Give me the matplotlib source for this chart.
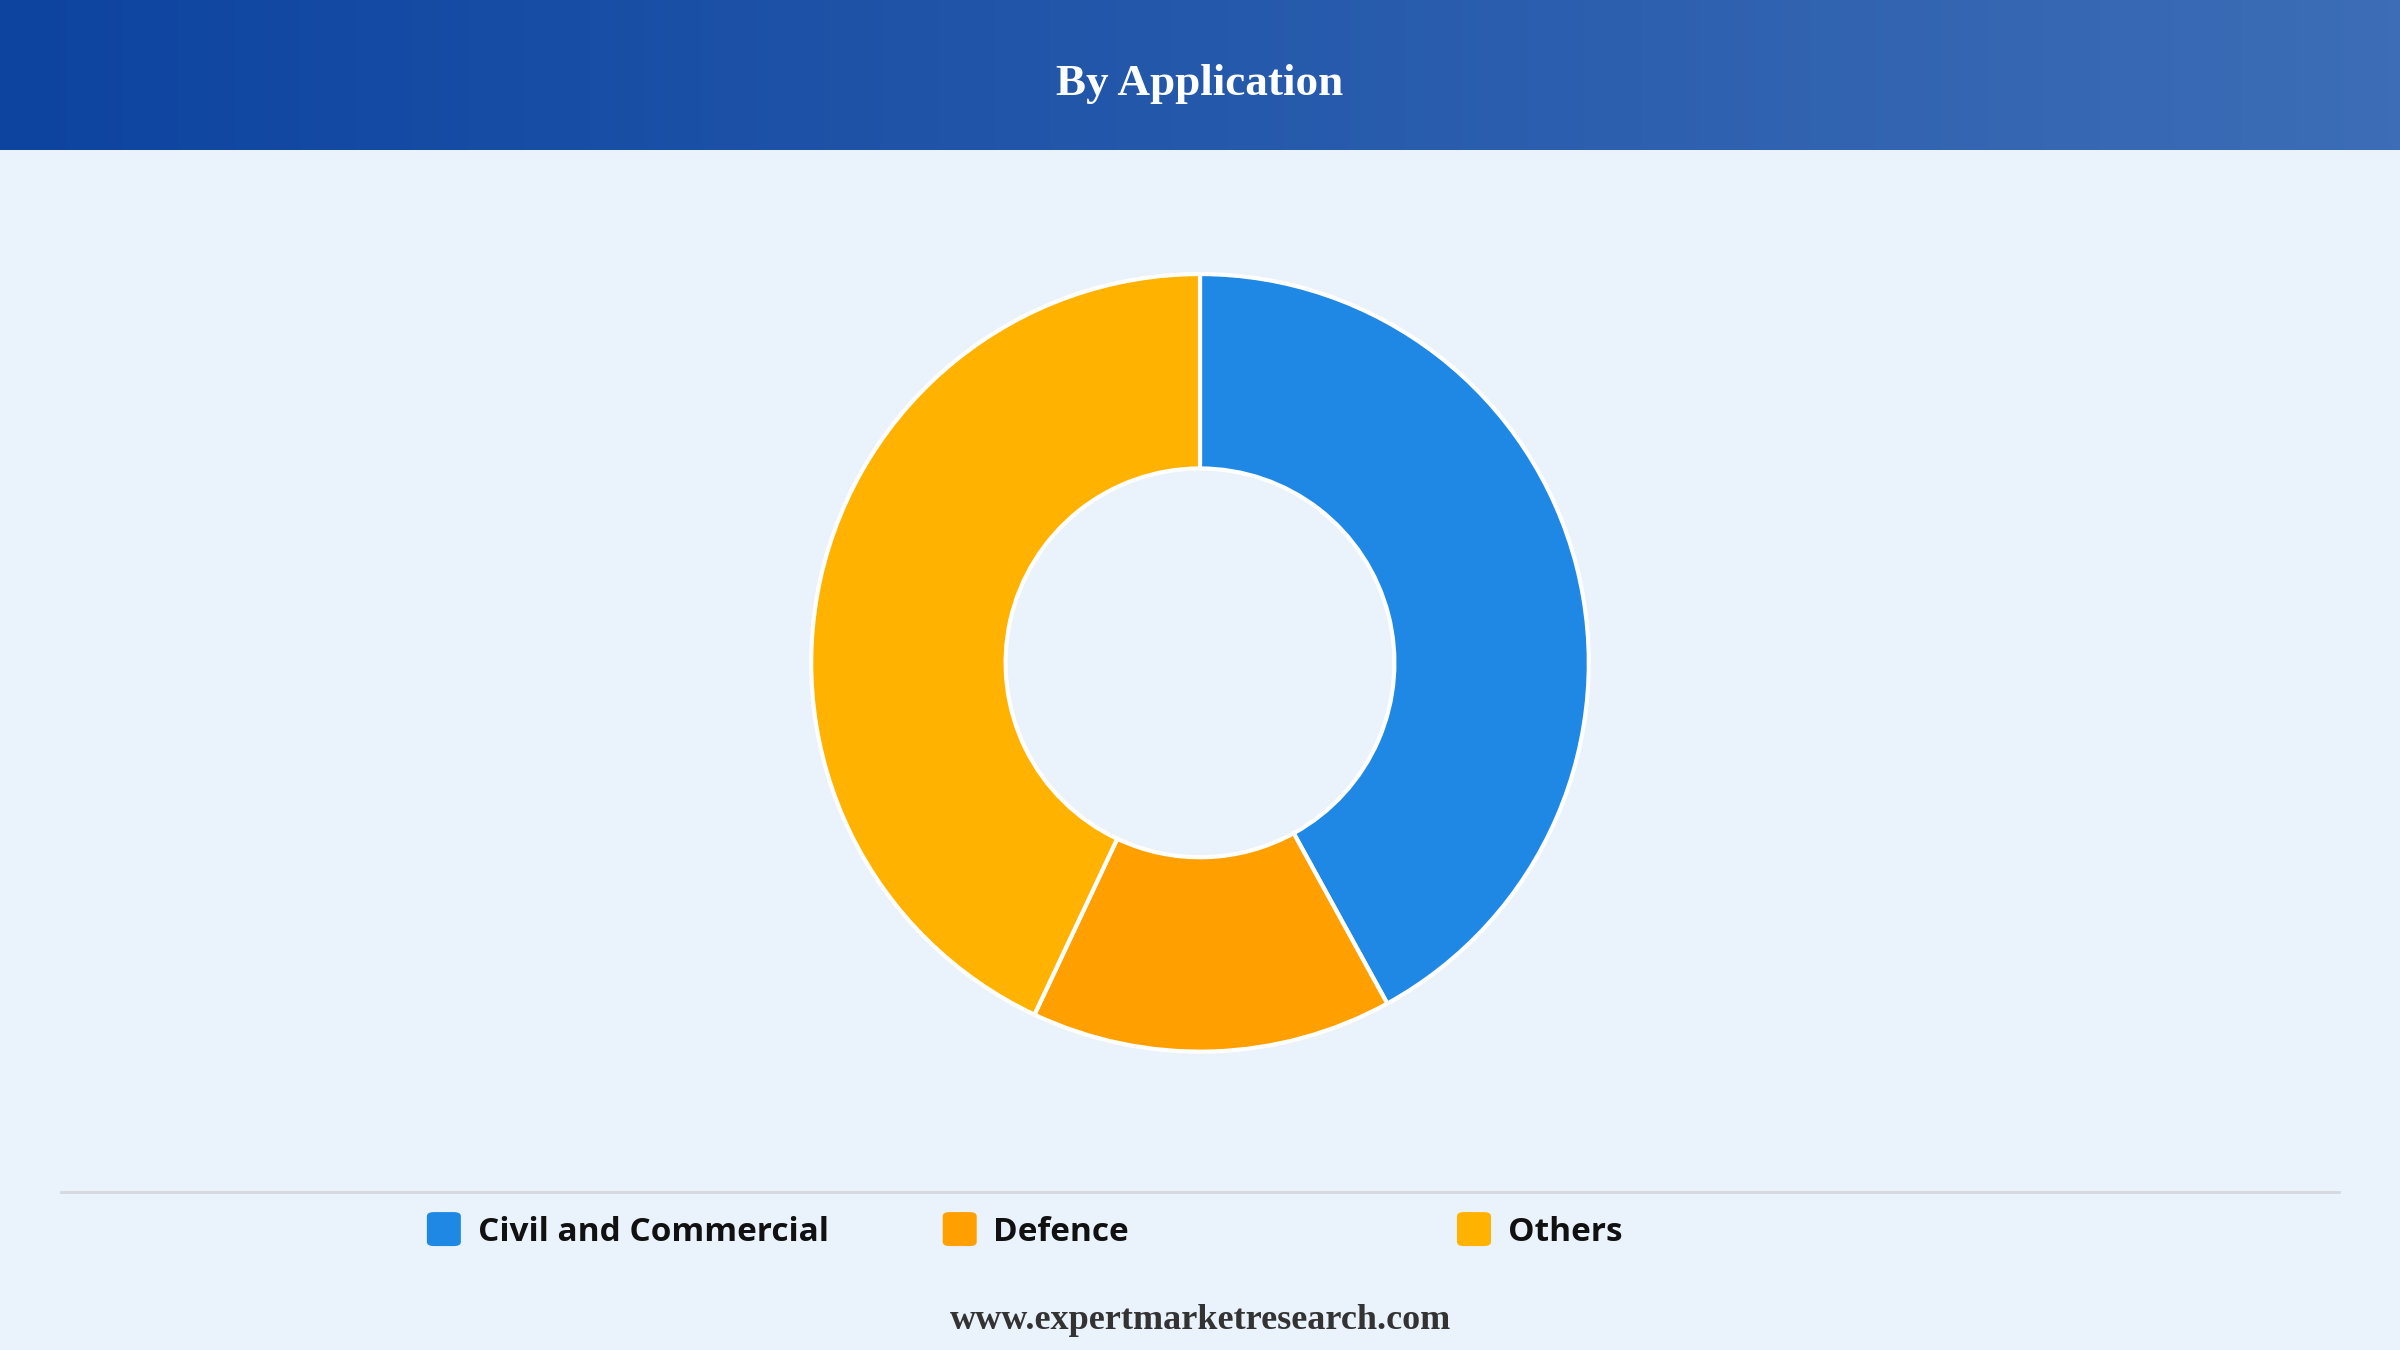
import matplotlib
matplotlib.use("Agg")
import matplotlib.pyplot as plt
import numpy as np
from matplotlib.patches import FancyBboxPatch
from matplotlib.colors import LinearSegmentedColormap

categories = ["Civil and Commercial", "Defence", "Others"]
values = [42, 15, 43]
colors = ["#1F88E5", "#FFA000", "#FFB300"]

fig = plt.figure(figsize=(24, 13.5), dpi=100)
fig.patch.set_facecolor("#EAF2FB")

hax = fig.add_axes([0, 1 - 98/882, 1, 98/882])
grad = np.linspace(0, 1, 256).reshape(1, -1)
cmap = LinearSegmentedColormap.from_list("h", ["#0D44A0", "#3C6DB6"])
hax.imshow(grad, aspect="auto", cmap=cmap, extent=[0, 1, 0, 1])
hax.set_axis_off()
fig.text(0.5, 1 - 55/882, "By Application", ha="center", va="center", color="white",
         fontsize=32.5, fontweight="bold", family="Liberation Serif")

ax = fig.add_axes([0.5 - 0.162, 0.509 - 0.288, 0.324, 0.576])
ax.pie(values, colors=colors, startangle=90, counterclock=False, radius=1,
       wedgeprops=dict(width=0.5, edgecolor="white", linewidth=3))
ax.set_xlim(-1, 1); ax.set_ylim(-1, 1); ax.set_aspect("equal")
ax.set_axis_off()

fig.add_artist(plt.Line2D([40/1568, 1528/1568], [1 - 779/882]*2, color="#D5D9DE", lw=2))

xs = [290/1568, 627/1568, 963/1568]
y = 1 - 803/882
sw, sh = 34/2400, 34/1350
for x, c, lab in zip(xs, colors, categories):
    fig.add_artist(FancyBboxPatch((x - sw/2, y - sh/2), sw, sh, boxstyle="round,pad=0,rounding_size=0.003",
                                  transform=fig.transFigure, facecolor=c, edgecolor="none"))
    fig.text(x + 22/1568, y - 2/882, lab, ha="left", va="center", fontsize=24, fontweight="bold",
             family="Open Sans", color="#111111")

fig.text(0.5, 1 - 863/882, "www.expertmarketresearch.com", ha="center", va="center",
         fontsize=26, fontweight="bold", family="Liberation Serif", color="#333333")

fig.savefig("out.png", dpi=100, facecolor=fig.get_facecolor())
